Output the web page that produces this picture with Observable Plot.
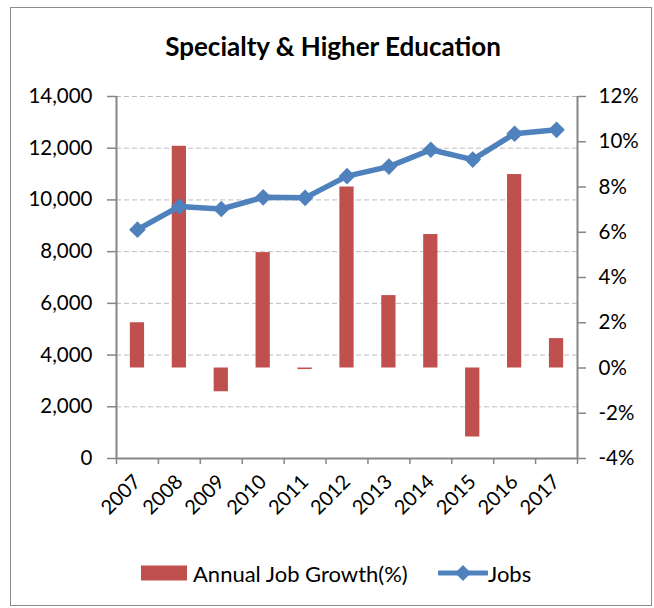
<!DOCTYPE html>
<html>
<head>
<meta charset="utf-8">
<script src="https://cdn.jsdelivr.net/npm/d3@7"></script>
<script src="https://cdn.jsdelivr.net/npm/@observablehq/plot@0.6"></script>
<style>
  html, body { margin: 0; padding: 0; background: #fff; }
  #wrap { position: relative; width: 654px; height: 608px; overflow: hidden; }
  #frame { position: absolute; left: 10px; top: 7px; width: 642px; height: 599px; border: 1px solid #8c8c8c; box-sizing: border-box; }
  #title { position: absolute; left: 0; width: 666px; top: 30px; text-align: center; font: bold 26px Lato, sans-serif; color: #000; }
  #chart { position: absolute; left: 0; top: 0; }
  #legend { position: absolute; top: 561px; left: 0; width: 654px; font: 22px Lato, sans-serif; color: #000; }
  .li { position: absolute; top: 0; display: flex; align-items: center; height: 24px; }
</style>
</head>
<body>
<div id="wrap">
  <div id="frame"></div>
  <div id="chart"></div>
  <div id="title">Specialty &amp; Higher Education</div>
  <div id="legend"></div>
</div>
<script>
const years = [2007, 2008, 2009, 2010, 2011, 2012, 2013, 2014, 2015, 2016, 2017];
const jobs = [8850, 9750, 9650, 10100, 10080, 10920, 11290, 11940, 11560, 12560, 12710];
const growth = [2.0, 9.8, -1.05, 5.1, -0.07, 8.0, 3.2, 5.9, -3.05, 8.55, 1.3];
const leftTicks = [0, 2000, 4000, 6000, 8000, 10000, 12000, 14000];
const rightTicks = [-4, -2, 0, 2, 4, 6, 8, 10, 12];
const seriesNames = ["Annual Job Growth(%)", "Jobs"];

const leftMax = leftTicks[leftTicks.length - 1];
const gMin = rightTicks[0], gMax = rightTicks[rightTicks.length - 1];
const toLeft = g => (g - gMin) / (gMax - gMin) * leftMax;
const fromLeft = v => Math.round(v / leftMax * (gMax - gMin) + gMin);

const rows = years.map((y, i) => ({year: y, jobs: jobs[i], growth: growth[i]}));
const xDomain = [years[0] - 0.5, years[years.length - 1] + 0.5];
const boundaries = years.map(y => y - 0.5).concat([xDomain[1]]);
const half = 0.17;

const axisColor = "#868686";
const barColor = "#c0504d";
const lineColor = "#4f81bd";

const chart = Plot.plot({
  width: 654,
  height: 540,
  marginLeft: 116,
  marginRight: 77,
  marginTop: 96,
  marginBottom: 82,
  x: {type: "linear", domain: xDomain},
  y: {domain: [0, leftMax]},
  style: {fontFamily: "Lato, sans-serif", fontSize: "16px", color: "#000", background: "transparent", overflow: "visible"},
  marks: [
    Plot.gridY(leftTicks.filter(v => v > 0), {stroke: "#bdbdbd", strokeOpacity: 1, strokeDasharray: "5,3", strokeWidth: 1}),
    Plot.rectY(rows, {x1: d => d.year - half, x2: d => d.year + half, y1: () => toLeft(0), y2: d => toLeft(d.growth), fill: barColor}),
    Plot.ruleX([xDomain[0], xDomain[1]], {stroke: axisColor, strokeWidth: 2}),
    Plot.ruleY([0], {stroke: axisColor, strokeWidth: 2}),
    Plot.axisY(leftTicks, {anchor: "left", tickFormat: d3.format(","), tickSize: 9, tickPadding: 15, stroke: axisColor, strokeWidth: 1.5, fill: "#000", fontSize: 20.5, label: null}),
    Plot.axisY(rightTicks.map(toLeft), {anchor: "right", tickFormat: v => fromLeft(v) + "%", tickSize: 8, tickPadding: 13, stroke: axisColor, strokeWidth: 1.5, fill: "#000", fontSize: 20.5, label: null}),
    Plot.axisX(boundaries, {anchor: "bottom", tickSize: 6, tickFormat: () => "", stroke: axisColor, strokeWidth: 1.5, label: null}),
    Plot.axisX(years, {anchor: "bottom", tickSize: 0, tickRotate: -45, tickPadding: 20, tickFormat: d => String(d), fill: "#000", fontSize: 20, label: null}),
    Plot.line(rows, {x: "year", y: "jobs", stroke: lineColor, strokeWidth: 5.5}),
    Plot.dot(rows, {x: "year", y: "jobs", symbol: "diamond2", r: 7.5, fill: lineColor, stroke: "none"})
  ]
});
document.getElementById("chart").appendChild(chart);

// legend
const legend = document.getElementById("legend");
const item1 = document.createElement("div");
item1.className = "li";
item1.style.left = "141px";
item1.innerHTML = `<svg width="52" height="16"><rect x="0" y="0.5" width="46" height="15" fill="${barColor}"/></svg><span>${seriesNames[0]}</span>`;
legend.appendChild(item1);
const item2 = document.createElement("div");
item2.className = "li";
item2.style.left = "438px";
item2.innerHTML = `<svg width="50" height="18"><line x1="1" x2="49" y1="9" y2="9" stroke="${lineColor}" stroke-width="5" stroke-linecap="round"/><path d="M25,1 L33,9 L25,17 L17,9 Z" fill="${lineColor}"/></svg><span>${seriesNames[1]}</span>`;
legend.appendChild(item2);
</script>
</body>
</html>
